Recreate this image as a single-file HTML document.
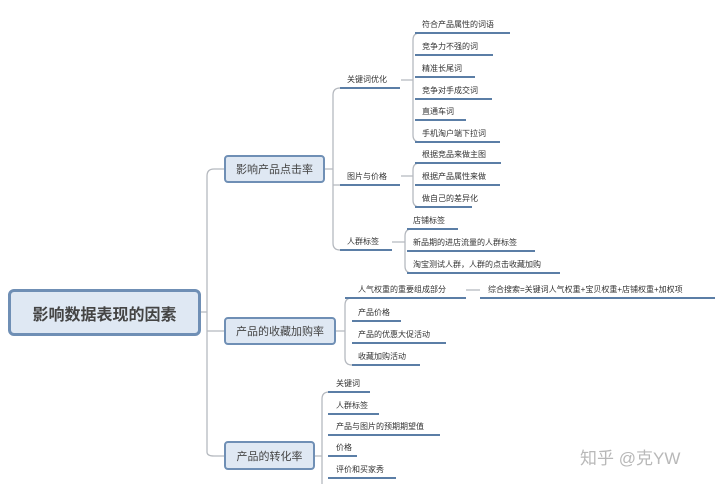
<!DOCTYPE html>
<html><head><meta charset="utf-8"><style>
body{margin:0;width:720px;height:484px;background:#fff;position:relative;overflow:hidden;font-family:"Liberation Sans","Noto Sans CJK SC",sans-serif;}
.t{position:absolute;font-size:8px;color:#333;white-space:nowrap;line-height:10px;}
.u{position:absolute;height:2px;background:#5b7ea6;}
.box{position:absolute;background:#dfe8f3;border:2px solid #6f8fb5;border-radius:4px;color:#444;display:flex;align-items:center;justify-content:center;box-sizing:border-box;}
</style></head><body>
<svg width="720" height="484" style="position:absolute;left:0;top:0" fill="none" stroke="#b5b9bf" stroke-width="1.3">
<path d="M201 312 H207 M207 176 Q207 169 214 169 H224 M207 176 V452 Q207 456 214 456 H224 M207 331 H224"/>
<path d="M325 169 H333 M333 95 Q333 88 340 88 M333 95 V243 Q333 250 340 250 M333 185 H340"/>
<path d="M401 80 H413 M413 40 Q413 33 420 33 M413 40 V135 Q413 142 420 142"/>
<path d="M401 176 H413 M413 170 Q413 163 420 163 M413 170 V200 Q413 207 420 207"/>
<path d="M392 242 H405 M405 236 Q405 229 412 229 M405 236 V266 Q405 273 412 273"/>
<path d="M336 331 H345 M345 305 Q345 298 352 298 M345 305 V358 Q345 365 352 365"/>
<path d="M466 290 H480"/>
<path d="M315 456 H322 M322 399 Q322 392 329 392 M322 399 V484"/>
</svg>
<div class="box" style="left:8px;top:289px;width:193px;height:47px;font-size:16px;font-weight:bold;border-width:3px;border-radius:6px;">影响数据表现的因素</div>
<div class="box" style="left:224px;top:155px;width:101px;height:28px;font-size:11px;">影响产品点击率</div>
<div class="box" style="left:224px;top:317px;width:112px;height:28px;font-size:11px;">产品的收藏加购率</div>
<div class="box" style="left:224px;top:441px;width:91px;height:29px;font-size:11px;">产品的转化率</div>

<div class="t" style="left:347px;top:75px">关键词优化</div><div class="u" style="left:340px;top:87px;width:60px"></div>
<div class="t" style="left:347px;top:172px">图片与价格</div><div class="u" style="left:340px;top:184px;width:60px"></div>
<div class="t" style="left:347px;top:237px">人群标签</div><div class="u" style="left:340px;top:249px;width:52px"></div>

<div class="t" style="left:422px;top:20px">符合产品属性的词语</div><div class="u" style="left:415px;top:32px;width:95px"></div>
<div class="t" style="left:422px;top:42px">竞争力不强的词</div><div class="u" style="left:415px;top:54px;width:78px"></div>
<div class="t" style="left:422px;top:64px">精准长尾词</div><div class="u" style="left:415px;top:76px;width:60px"></div>
<div class="t" style="left:422px;top:86px">竞争对手成交词</div><div class="u" style="left:415px;top:98px;width:77px"></div>
<div class="t" style="left:422px;top:107px">直通车词</div><div class="u" style="left:415px;top:119px;width:51px"></div>
<div class="t" style="left:422px;top:129px">手机淘户端下拉词</div><div class="u" style="left:415px;top:141px;width:85px"></div>

<div class="t" style="left:422px;top:150px">根据竞品来做主图</div><div class="u" style="left:415px;top:162px;width:86px"></div>
<div class="t" style="left:422px;top:172px">根据产品属性来做</div><div class="u" style="left:415px;top:184px;width:85px"></div>
<div class="t" style="left:422px;top:194px">做自己的差异化</div><div class="u" style="left:415px;top:206px;width:57px"></div>

<div class="t" style="left:413px;top:216px">店铺标签</div><div class="u" style="left:407px;top:228px;width:51px"></div>
<div class="t" style="left:413px;top:238px">新品期的进店流量的人群标签</div><div class="u" style="left:407px;top:250px;width:128px"></div>
<div class="t" style="left:413px;top:260px">淘宝测试人群，人群的点击收藏加购</div><div class="u" style="left:407px;top:272px;width:153px"></div>

<div class="t" style="left:358px;top:285px">人气权重的重要组成部分</div><div class="u" style="left:345px;top:297px;width:121px"></div>
<div class="t" style="left:488px;top:285px">综合搜索=关键词人气权重+宝贝权重+店铺权重+加权项</div><div class="u" style="left:480px;top:297px;width:235px"></div>
<div class="t" style="left:358px;top:308px">产品价格</div><div class="u" style="left:352px;top:320px;width:49px"></div>
<div class="t" style="left:358px;top:330px">产品的优惠大促活动</div><div class="u" style="left:352px;top:342px;width:94px"></div>
<div class="t" style="left:358px;top:352px">收藏加购活动</div><div class="u" style="left:352px;top:364px;width:68px"></div>

<div class="t" style="left:336px;top:379px">关键词</div><div class="u" style="left:328px;top:391px;width:42px"></div>
<div class="t" style="left:336px;top:401px">人群标签</div><div class="u" style="left:328px;top:413px;width:51px"></div>
<div class="t" style="left:336px;top:422px">产品与图片的预期期望值</div><div class="u" style="left:328px;top:434px;width:112px"></div>
<div class="t" style="left:336px;top:443px">价格</div><div class="u" style="left:328px;top:455px;width:29px"></div>
<div class="t" style="left:336px;top:465px">评价和买家秀</div><div class="u" style="left:328px;top:477px;width:68px"></div>

<div style="position:absolute;left:580px;top:444px;font-size:17px;color:#b8b8b8;white-space:nowrap;">知乎 @克YW</div>
</body></html>
